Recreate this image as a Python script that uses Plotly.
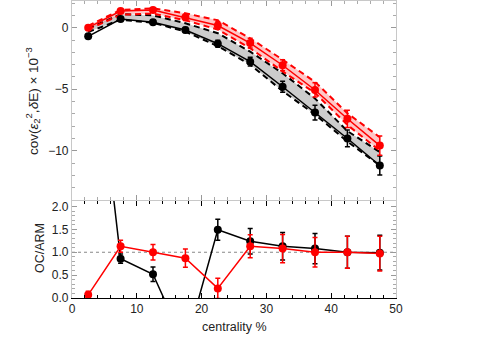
import plotly.graph_objects as go

# ---------------- data ----------------
centrality = [2.5, 7.5, 12.5, 17.5, 22.5, 27.5, 32.5, 37.5, 42.5, 47.5]

# top panel: cov(eps2^2, dE) x 1e-3
black_cov = [-0.70, 0.70, 0.45, -0.19, -1.30, -2.76, -4.80, -6.90, -9.00, -11.20]
black_cov_err = [0.10, 0.12, 0.15, 0.20, 0.28, 0.35, 0.45, 0.60, 0.68, 0.77]
red_cov = [0.0, 1.35, 1.44, 0.84, 0.18, -1.25, -3.05, -5.06, -7.40, -9.58]
red_cov_err = [0.12, 0.15, 0.15, 0.25, 0.30, 0.40, 0.45, 0.58, 0.70, 0.78]

black_band_hi = [-0.05, 1.10, 1.00, 0.36, -0.45, -1.95, -3.70, -5.75, -8.40, -10.10]
black_band_lo = [-0.35, 0.65, 0.40, -0.32, -1.50, -3.00, -5.15, -7.05, -9.25, -11.20]
red_band_hi = [0.15, 1.45, 1.57, 1.17, 0.60, -0.86, -2.60, -4.40, -6.95, -8.90]
red_band_lo = [-0.15, 1.05, 1.15, 0.60, -0.15, -1.67, -3.55, -5.30, -7.90, -10.00]

# bottom panel: OC/ARM ratio
black_ratio = [7.0, 0.86, 0.52, -1.05, 1.49, 1.24, 1.13, 1.08, 1.00, 0.99]
black_ratio_err = [0.10, 0.10, 0.16, 0.20, 0.23, 0.28, 0.30, 0.33, 0.35, 0.38]
red_ratio = [0.07, 1.13, 1.00, 0.87, 0.21, 1.13, 1.08, 1.00, 1.00, 0.97]
red_ratio_err = [0.08, 0.13, 0.17, 0.20, 0.22, 0.25, 0.31, 0.32, 0.35, 0.38]

ref_level = 1.0

x_ticks = [0, 10, 20, 30, 40, 50]
top_y_ticks = [-10, -5, 0]
bottom_y_ticks = [0.0, 0.5, 1.0, 1.5, 2.0]

# ---------------- styles ----------------
RED = "#ff0000"
BLACK = "#000000"
FRAME_GRAY = "#c8c8c8"
FONT = "Liberation Sans, Arial, sans-serif"

fig = go.Figure()

# bands (top panel)
for lo, hi, col, fill in [
    (black_band_lo, black_band_hi, BLACK, "rgba(0,0,0,0.2)"),
    (red_band_lo, red_band_hi, RED, "rgba(255,0,0,0.22)"),
]:
    fig.add_trace(go.Scatter(x=centrality, y=lo, mode="lines", xaxis="x2", yaxis="y",
                             line=dict(color=col, width=2, dash="6px,4px"), showlegend=False,
                             hoverinfo="skip"))
    fig.add_trace(go.Scatter(x=centrality, y=hi, mode="lines", xaxis="x2", yaxis="y",
                             line=dict(color=col, width=2, dash="6px,4px"), fill="tonexty",
                             fillcolor=fill, showlegend=False, hoverinfo="skip"))

# data points (top panel)
for ys, err, col in [(black_cov, black_cov_err, BLACK), (red_cov, red_cov_err, RED)]:
    fig.add_trace(go.Scatter(x=centrality, y=ys, mode="lines+markers", xaxis="x2", yaxis="y",
                             line=dict(color=col, width=1.5),
                             marker=dict(color=col, size=8),
                             error_y=dict(type="data", array=err, color=col, thickness=1.5, width=2.5),
                             showlegend=False))

# ratio (bottom panel)
for ys, err, col in [(black_ratio, black_ratio_err, BLACK), (red_ratio, red_ratio_err, RED)]:
    fig.add_trace(go.Scatter(x=centrality, y=ys, mode="lines+markers", xaxis="x", yaxis="y2",
                             line=dict(color=col, width=1.5),
                             marker=dict(color=col, size=8),
                             error_y=dict(type="data", array=err, color=col, thickness=1.5, width=2.5),
                             showlegend=False))

fig.add_shape(type="line", xref="x", yref="y2", x0=0, x1=50, y0=ref_level, y1=ref_level,
              line=dict(color="#888888", width=1.2, dash="dot"), layer="below")

tickfont = dict(family=FONT, size=12, color="#222222")

fig.update_layout(
    width=504, height=343,
    margin=dict(l=72, r=108, t=1, b=45),
    paper_bgcolor="white", plot_bgcolor="white",
    font=dict(family=FONT, size=12, color="#222222"),
    xaxis=dict(domain=[0, 1], anchor="y2", range=[0, 50], tickvals=x_ticks,
               ticks="inside", ticklen=5, tickcolor=BLACK, tickwidth=1,
               minor=dict(ticks="inside", dtick=2, ticklen=3, tickcolor=BLACK),
               showline=True, linecolor=BLACK, linewidth=1, mirror="allticks",
               showgrid=False, zeroline=False, tickfont=tickfont),
    yaxis2=dict(domain=[0, 0.3266], anchor="x", range=[0, 2.12], tickvals=bottom_y_ticks,
                tickformat=".1f", ticks="inside", ticklen=5, tickcolor="#999999",
                minor=dict(ticks="inside", dtick=0.1, ticklen=3, tickcolor="#aaaaaa"),
                showline=True, linecolor=FRAME_GRAY, linewidth=1.2, mirror="allticks",
                showgrid=False, zeroline=False, tickfont=tickfont),
    xaxis2=dict(domain=[0, 1], anchor="y", matches="x", range=[0, 50], tickvals=x_ticks,
                showticklabels=False, ticks="inside", ticklen=5, tickcolor="#999999",
                minor=dict(ticks="inside", dtick=2, ticklen=3, tickcolor="#aaaaaa"),
                showline=True, linecolor=FRAME_GRAY, linewidth=1.2, mirror="allticks",
                showgrid=False, zeroline=False),
    yaxis=dict(domain=[0.33, 1], anchor="x2", range=[-14, 2.17], tickvals=top_y_ticks,
               ticks="inside", ticklen=5, tickcolor="#999999",
               minor=dict(ticks="inside", dtick=1, ticklen=3, tickcolor="#aaaaaa"),
               showline=True, linecolor=FRAME_GRAY, linewidth=1.2, mirror="allticks",
               showgrid=False, zeroline=False, tickfont=tickfont),
    annotations=[
        dict(text="cov(<i>ε</i><sub>2</sub><sup>2</sup>,<i>δ</i>E) × 10<sup>−3</sup>",
             xref="paper", yref="paper", x=-0.1204, y=0.663, textangle=-90,
             showarrow=False, font=dict(family=FONT, size=13.5, color="#222222"),
             xanchor="center", yanchor="middle"),
        dict(text="OC/ARM", xref="paper", yref="paper", x=-0.0988, y=0.168, textangle=-90,
             showarrow=False, font=dict(family=FONT, size=12.5, color="#222222"),
             xanchor="center", yanchor="middle"),
        dict(text="centrality %", xref="paper", yref="paper", x=0.5, y=-0.0976,
             showarrow=False, font=dict(family=FONT, size=12.5, color="#222222"),
             xanchor="center", yanchor="middle"),
    ],
)

fig.write_html("out.html", config={"displayModeBar": False},
               post_script="document.body.style.margin='0';")
